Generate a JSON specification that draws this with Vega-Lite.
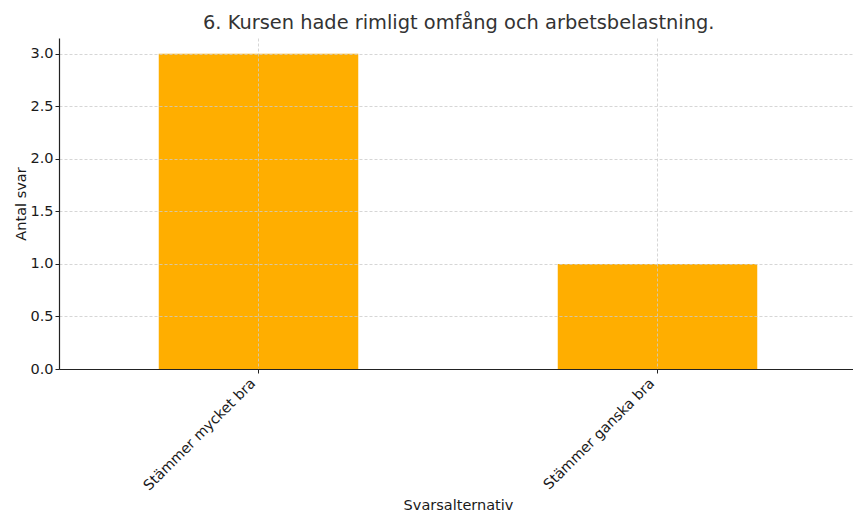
{
  "$schema": "https://vega.github.io/schema/vega-lite/v6.json",
  "autosize": {"type": "none"},
  "padding": {"left": 59, "top": 38, "right": -4, "bottom": 144},
  "width": 798,
  "height": 331,
  "background": "white",
  "title": {
    "text": "6. Kursen hade rimligt omfång och arbetsbelastning.",
    "font": "DejaVu Sans",
    "fontSize": 19.4,
    "fontWeight": "normal",
    "color": "#333333",
    "anchor": "start",
    "frame": "group",
    "dx": 144,
    "offset": 5
  },
  "config": {
    "view": {"stroke": null},
    "font": "DejaVu Sans"
  },
  "data": {
    "values": [
      {"svar": "Stämmer mycket bra", "antal": 3},
      {"svar": "Stämmer ganska bra", "antal": 1}
    ]
  },
  "mark": {"type": "bar", "color": "#FFAE00"},
  "encoding": {
    "x": {
      "field": "svar",
      "type": "nominal",
      "sort": null,
      "scale": {"paddingInner": 0.5, "paddingOuter": 0.25},
      "axis": {
        "title": "Svarsalternativ",
        "titleFont": "DejaVu Sans",
        "titleFontSize": 14.5,
        "titleFontWeight": "normal",
        "titleColor": "#1a1a1a",
        "titleX": 399,
        "titleY": 136,
        "titleAnchor": "middle",
        "titleBaseline": "middle",
        "labelAngle": -45,
        "labelAlign": "right",
        "labelBaseline": "top",
        "labelFontSize": 14.3,
        "labelColor": "#1a1a1a",
        "labelPadding": 3,
        "labelOffset": -10,
        "bandPosition": 0.5,
        "grid": true,
        "gridColor": "#cccccc",
        "gridDash": [3, 2],
        "gridWidth": 0.8,
        "domainColor": "#222222",
        "domainWidth": 1.2,
        "tickColor": "#222222",
        "tickSize": 4,
        "zindex": 1
      }
    },
    "y": {
      "field": "antal",
      "type": "quantitative",
      "scale": {"domain": [0, 3.15], "nice": false},
      "axis": {
        "title": "Antal svar",
        "titleFont": "DejaVu Sans",
        "titleFontSize": 14.5,
        "titleFontWeight": "normal",
        "titleColor": "#1a1a1a",
        "titlePadding": 1,
        "values": [0, 0.5, 1, 1.5, 2, 2.5, 3],
        "format": ".1f",
        "labelFontSize": 14.5,
        "labelColor": "#1a1a1a",
        "labelPadding": 2,
        "grid": true,
        "gridColor": "#cccccc",
        "gridDash": [3, 2],
        "gridWidth": 0.8,
        "domainColor": "#222222",
        "domainWidth": 1.2,
        "tickColor": "#222222",
        "tickSize": 4,
        "zindex": 1
      }
    }
  }
}
